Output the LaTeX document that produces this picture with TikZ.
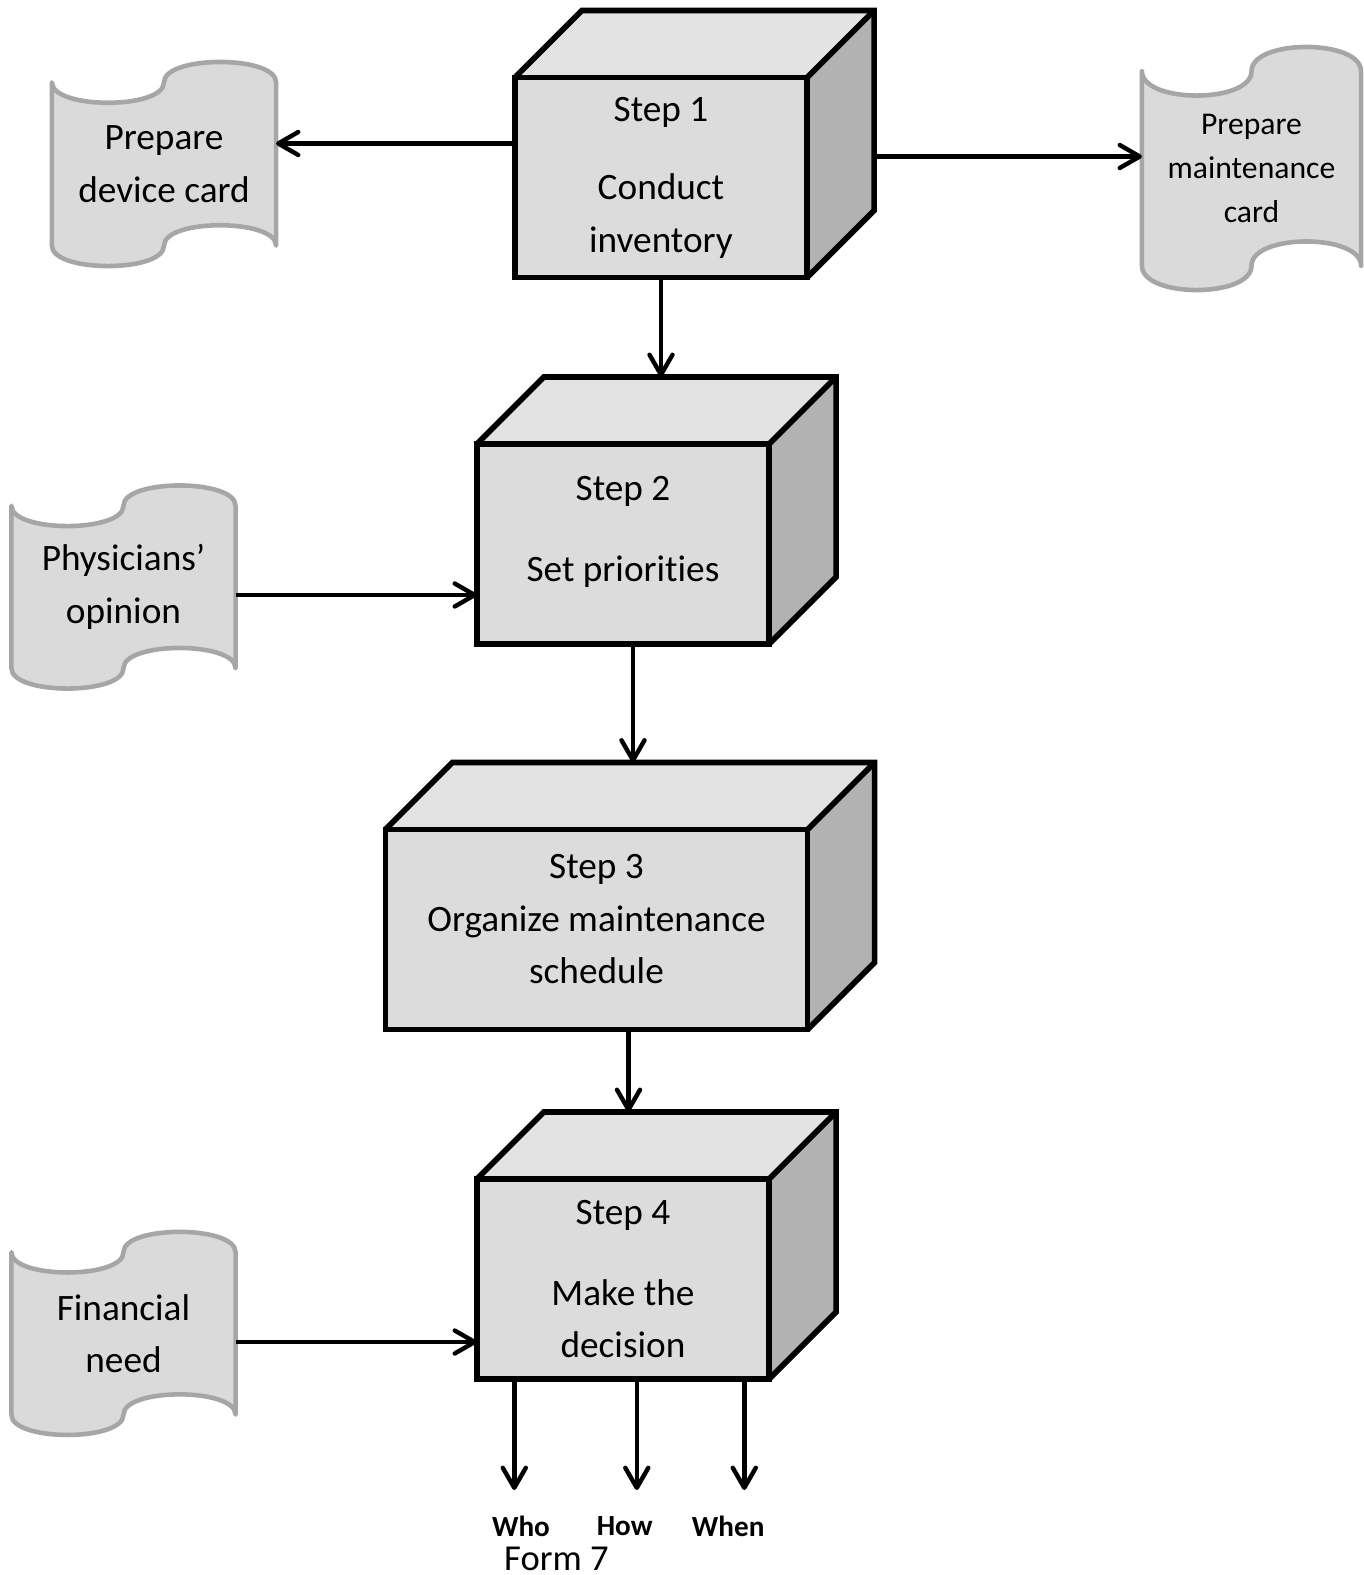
\documentclass[tikz,border=0pt]{standalone}
\usepackage{fontspec}
\setmainfont{Carlito}[Ligatures=NoCommon]
\usepackage{tikz}
\usetikzlibrary{arrows.meta,positioning,calc,backgrounds}
\definecolor{frontgray}{HTML}{DCDCDC}
\definecolor{topgray}{HTML}{E3E3E3}
\definecolor{sidegray}{HTML}{B2B2B2}
\definecolor{tapegray}{HTML}{DADADA}
\definecolor{tapeedge}{HTML}{A6A6A6}
\tikzset{
    stepface/.style={draw, line width=1.6pt, fill=frontgray, outer sep=0pt, inner sep=0pt, align=center, font=\fontsize{10.6}{14.9}\selectfont, minimum width=2.92cm, minimum height=2cm},
    stepedge/.style={draw, line width=1.6pt},
    tapenode/.style={outer sep=0pt, inner sep=0pt, align=center, font=\fontsize{10.6}{14.9}\selectfont, minimum width=2.24cm, minimum height=2.03cm},
    tapeline/.style={draw=tapeedge, line width=1.3pt, line join=round, fill=tapegray},
    flowarrow/.style={-{Straight Barb[round, length=2mm, width=2.3mm]}, line width=1.25pt},
    outlabel/.style={font=\bfseries\fontsize{8.3}{10}\selectfont, inner sep=0pt}
}
\newcommand\stepdepth[1]{%
    \begin{scope}[on background layer]
        \fill[topgray] (#1.north west) -- ++(67,-67) -- ([shift={(67,-67)}]#1.north east) -- (#1.north east) -- cycle;
        \fill[sidegray] (#1.north east) -- ([shift={(67,-67)}]#1.north east) -- ([shift={(67,-67)}]#1.south east) -- (#1.south east) -- cycle;
    \end{scope}
    \draw[stepedge] (#1.north west) -- ++(67,-67) -- ([shift={(67,-67)}]#1.north east) -- ([shift={(67,-67)}]#1.south east) -- (#1.south east);
    \draw[stepedge] (#1.north east) -- ([shift={(67,-67)}]#1.north east);
    \coordinate (#1-back) at ([shift={(67,-67)}]#1.north);
}
\newcommand\tapeoutline[1]{%
    \filldraw[tapeline] ($(#1.north west)!.1!(#1.south west)$)
        .. controls ($(#1.north west)!.2333!(#1.south west)$) and ($(#1.north)!.2333!(#1.south)$) .. ($(#1.north)!.1!(#1.south)$)
        .. controls ($(#1.north)!-.0333!(#1.south)$) and ($(#1.north east)!-.0333!(#1.south east)$) .. ($(#1.north east)!.1!(#1.south east)$)
        -- ($(#1.north east)!.9!(#1.south east)$)
        .. controls ($(#1.north east)!.7667!(#1.south east)$) and ($(#1.north)!.7667!(#1.south)$) .. ($(#1.north)!.9!(#1.south)$)
        .. controls ($(#1.north)!1.0333!(#1.south)$) and ($(#1.north west)!1.0333!(#1.south west)$) .. ($(#1.north west)!.9!(#1.south west)$)
        -- cycle;
}

\begin{document}
\begin{tikzpicture}[x=0.01cm, y=-0.01cm]
        \useasboundingbox (0,0) rectangle (1364,1575);
        \node[stepface] (step1) at (661,177.5) {Step 1\\[7.5pt]Conduct\\inventory};
        \node[stepface] (step2) at (623,544) {Step 2\\[8pt]Set priorit\kern0pt ies\\[-6.3pt]};
        \node[stepface, minimum width=4.22cm] (step3) at (596.5,929.5) {Step 3\\Organize maintenance\\schedule\\[-8.9pt]};
        \node[stepface] (step4) at (623,1279) {Step 4\\[8pt]Make the\\decision};
        \node[tapenode, minimum height=2.04cm] (devcard) at (164,164) {Prepare\\device card};
        \node[tapenode, minimum width=2.19cm, minimum height=2.43cm, font=\fontsize{9}{12.6}\selectfont] (maintcard) at (1251.5,168.5) {Prepare\\maintenance\\card};
        \node[tapenode] (opinion) at (123.5,587) {Physicians’\\opinion};
        \node[tapenode] (finance) at (123.5,1333.4) {Financial\\need};
        \node[outlabel] (who) at (521,1526) {Who};
        \node[outlabel] (how) at (624.7,1526) {How};
        \node[outlabel] (when) at (728.2,1526) {When};
        \node[font=\fontsize{10.4}{12}\selectfont, inner sep=0pt] (form) at (556.4,1559) {Form 7};
        \stepdepth{step1}
        \stepdepth{step2}
        \stepdepth{step3}
        \stepdepth{step4}
        \begin{scope}[on background layer]
            \tapeoutline{devcard}
            \tapeoutline{maintcard}
            \tapeoutline{opinion}
            \tapeoutline{finance}
        \end{scope}
        \coordinate (inv left) at ([shift={(0,-34)}]step1.west);
        \coordinate (inv right) at ([shift={(67,-21)}]step1.east);
        \coordinate (prio out) at ([shift={(10,0)}]step2.south);
        \coordinate (sched out) at ([shift={(32,0)}]step3.south);
        \coordinate (opinion in) at ([shift={(0,51)}]step2.west);
        \coordinate (finance in) at ([shift={(0,63)}]step4.west);
        \coordinate (who end) at (514.3,1490);
        \coordinate (how end) at (636.8,1490);
        \coordinate (when end) at (744.3,1490);
        \draw[flowarrow] (inv left) -- (inv left -| devcard.east);
        \draw[flowarrow] (inv right) -- (inv right -| maintcard.west);
        \draw[flowarrow] (step1.south) -- (step1.south |- step2-back);
        \draw[flowarrow] (prio out) -- (prio out |- step3-back);
        \draw[flowarrow] (sched out) -- (sched out |- step4-back);
        \draw[flowarrow] (opinion in -| opinion.east) -- (opinion in);
        \draw[flowarrow] (finance in -| finance.east) -- (finance in);
        \draw[flowarrow] (who end |- step4.south) -- (who end);
        \draw[flowarrow] (how end |- step4.south) -- (how end);
        \draw[flowarrow] (when end |- step4.south) -- (when end);
    \end{tikzpicture}
\end{document}
